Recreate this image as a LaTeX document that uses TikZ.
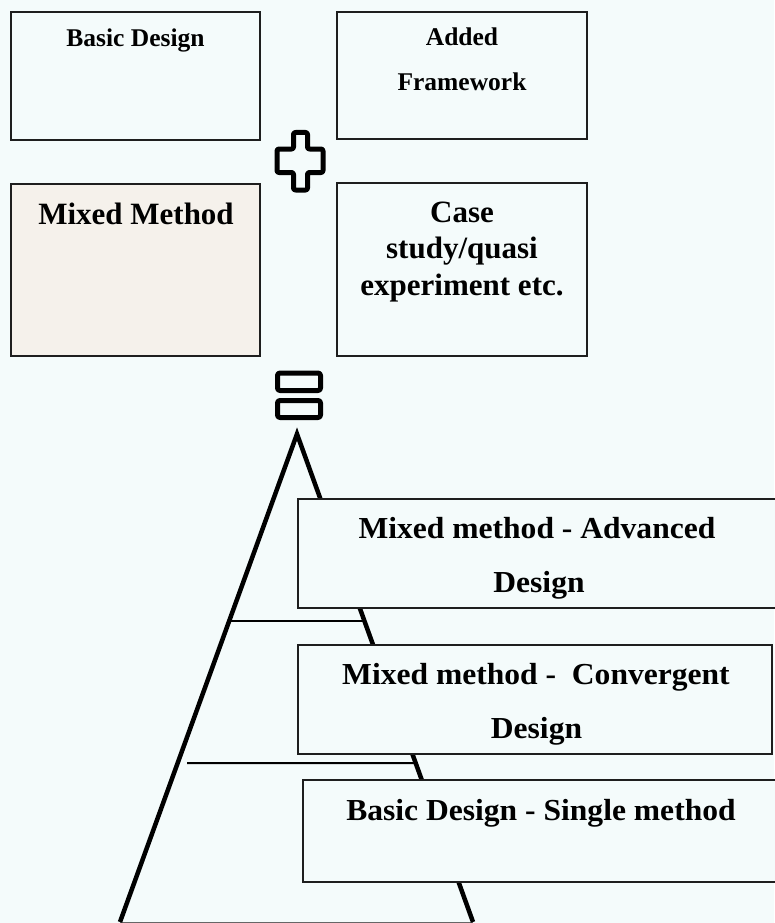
\documentclass[tikz,border=0pt]{standalone}
\usepackage{fontspec}
\setmainfont{Liberation Serif}
\newfontfamily\pyrfont{Liberation Serif}[FakeStretch=1.035]
\usetikzlibrary{calc}
\definecolor{bgc}{RGB}{244,251,251}
\definecolor{beigec}{RGB}{245,241,235}
\definecolor{edgec}{RGB}{30,30,30}
\tikzset{
  box/.style={draw=edgec, line width=1.4pt, fill=bgc, inner sep=0pt, outer sep=0pt, anchor=north west},
  lblS/.style={inner sep=0pt, anchor=base, text=black, font=\fontsize{25.5}{30}\selectfont\bfseries},
  lblL/.style={inner sep=0pt, anchor=base, text=black, font=\fontsize{31}{36}\selectfont\bfseries},
  lblP/.style={inner sep=0pt, anchor=base, text=black, font=\pyrfont\fontsize{30.5}{36}\selectfont\bfseries},
  leg/.style={draw=black, line width=4.5pt, line join=miter},
  rung/.style={draw=black, line width=2pt},
  sym/.style={draw=black, line width=5pt, line join=round},
}
\begin{document}
\begin{tikzpicture}[x=1pt, y=-1pt]
\fill[bgc] (0,0) rectangle (774,923);
\useasboundingbox (0,0) rectangle (774,923);

% top boxes
\node[box, minimum width=249pt, minimum height=128pt] (bd) at (11,12) {};
\node[box, minimum width=250pt, minimum height=127pt] (af) at (337,12) {};
\node[box, fill=beigec, minimum width=249pt, minimum height=172pt] (mm) at (11,184) {};
\node[box, minimum width=250pt, minimum height=173pt] (cs) at (337,183) {};

\node[lblS] (tbd) at (135.5,47) {Basic Design};
\node[lblS] (taf1) at (462,46) {Added};
\node[lblS] (taf2) at (462,91) {Framework};
\node[lblL] (tmm) at (136,224) {Mixed Method};
\node[lblL] (tcs1) at (462,222) {Case};
\node[lblL] (tcs2) at (462,258) {study/quasi};
\node[lblL] (tcs3) at (462,295) {experiment etc.};

% plus sign
\draw[sym, rounded corners=2pt] (293.5,132.5) -- (307.5,132.5) -- (307.5,149) -- (323,149)
  -- (323,172.5) -- (307.5,172.5) -- (307.5,190) -- (293.5,190) -- (293.5,172.5)
  -- (277,172.5) -- (277,149) -- (293.5,149) -- cycle;

% equals sign
\draw[sym, rounded corners=2.5pt] (277.5,373) rectangle (320.5,390.5);
\draw[sym, rounded corners=2.5pt] (277.5,400.5) rectangle (320.5,417.5);

% pyramid
\coordinate (apex) at (297,434);
\coordinate (bl) at (120,922);
\coordinate (br) at (473,922);
\draw[draw=black!60, line width=1pt] (bl) -- (br);
\draw[leg] (bl) -- (apex) -- (br);
\coordinate (u1) at ($(apex)!0.3832!(bl)$);
\coordinate (u2) at ($(apex)!0.3832!(br)$);
\coordinate (l1) at (187,763);
\coordinate (l2) at ($(apex)!0.6742!(br)$);
\draw[rung] (u1) -- (u2);
\draw[rung] (l1) -- (l2);

\node[box, minimum width=480pt, minimum height=109pt] (adv) at (298,499) {};
\node[box, minimum width=474pt, minimum height=109pt] (cnv) at (298,645) {};
\node[box, minimum width=475pt, minimum height=102pt] (sgl) at (303,780) {};

\node[lblP] (tadv1) at (537,538) {Mixed method - Advanced};
\node[lblP] (tadv2) at (539,592) {Design};
\node[lblP] (tcnv1) at (536,684) {Mixed method -\ \ Convergent};
\node[lblP] (tcnv2) at (536.5,738) {Design};
\node[lblP] (tsgl) at (541,820) {Basic Design - Single method};
\end{tikzpicture}
\end{document}
